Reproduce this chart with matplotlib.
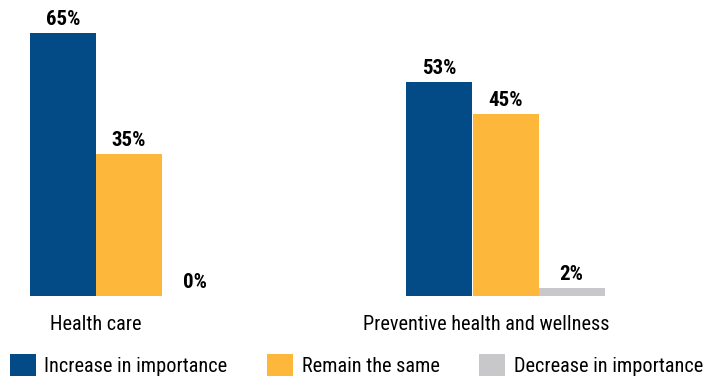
import numpy as np
import matplotlib
matplotlib.use("Agg")
import matplotlib.pyplot as plt

categories = ["Health care", "Preventive health and wellness"]
series = ["Increase in importance", "Remain the same", "Decrease in importance"]
values = {
    "Increase in importance": [65, 53],
    "Remain the same": [35, 45],
    "Decrease in importance": [0, 2],
}
colors = ["#024b86", "#fdb73a", "#c8c8ca"]

plt.rcParams["font.family"] = ["Roboto Condensed", "DejaVu Sans"]

fig = plt.figure(figsize=(7.03, 3.83), dpi=100)
# axes covers the full width; bottom sits at the bar baseline
ax = fig.add_axes([0, 87 / 383, 1, 296 / 383])

px_per_unit = 376.5
w = 66 / px_per_unit
x = np.arange(len(categories))
for i, (name, col) in enumerate(zip(series, colors)):
    xs = x + (i - 1) * w
    ax.bar(xs, values[name], width=w, color=col, label=name)
    for xi, v in zip(xs, values[name]):
        ax.annotate(f"{v}%", (xi, v), xytext=(0, 5.8), textcoords="offset points",
                    ha="center", va="baseline", fontsize=15, fontweight="bold")

label_shift = [-0.088, -0.052]
for xi, cat, dx in zip(x, categories, label_shift):
    ax.annotate(cat, (xi + dx, 0), xytext=(0, -24.5), textcoords="offset points",
                ha="center", va="baseline", fontsize=14.6, annotation_clip=False)

ax.set_xlim(-129 / px_per_unit, (703 - 129) / px_per_unit)
ax.set_ylim(0, 296 / 4.046)
ax.axis("off")

fig.legend(loc="lower left", bbox_to_anchor=(10 / 703, 7 / 383), ncol=3,
           frameon=False, fontsize=14.6, handlelength=1.28, handleheight=1.25,
           handletextpad=0.42, columnspacing=1.95, borderpad=0, borderaxespad=0)

fig.savefig("out.png", dpi=100)
